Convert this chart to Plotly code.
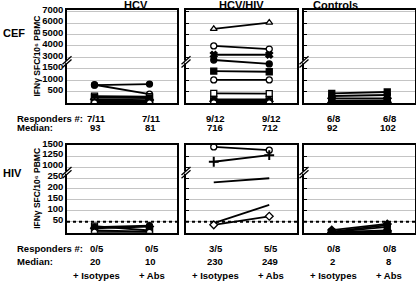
import numpy as np
import plotly.graph_objects as go

# ---------------- data ----------------
conditions = ["+ Isotypes", "+ Abs"]
groups = ["HCV", "HCV/HIV", "Controls"]
stimuli = ["CEF", "HIV"]

cef_ticks = [500, 1000, 1500, 3000, 4000, 5000, 6000, 7000]
hiv_ticks = [50, 100, 150, 200, 250, 1000, 1250, 1500]
hiv_threshold = 50

# CEF responses (IFN-g SFC / 10^6 PBMC)
cef_hcv_iso = [800, 780, 300, 240, 160, 93, 80, 60, 40, 20, 10]
cef_hcv_abs = [390, 830, 275, 220, 130, 81, 70, 50, 30, 20, 5]
cef_coinf_iso = [5490, 4000, 3230, 2655, 1400, 1010, 422, 160, 120, 75, 40, 10]
cef_coinf_abs = [6040, 3730, 3230, 2130, 1370, 1010, 414, 160, 110, 70, 35, 8]
cef_ctrl_iso = [425, 307, 206, 100, 84, 50, 20, 5]
cef_ctrl_abs = [482, 350, 206, 110, 94, 60, 30, 10]

# HIV responses
hiv_hcv_iso = [30, 25, 20, 10, 3]
hiv_hcv_abs = [10, 32, 28, 5, 2]
hiv_coinf_iso = [1462, 1122, 230, 44, 36]
hiv_coinf_abs = [1387, 1273, 249, 127, 75]
hiv_ctrl_iso = [12, 5, 3, 2, 2, 1, 0, 0]
hiv_ctrl_abs = [40, 35, 27, 10, 6, 4, 2, 0]

cef_responders = [["7/11", "7/11"], ["9/12", "9/12"], ["6/8", "6/8"]]
cef_medians = [["93", "81"], ["716", "712"], ["92", "102"]]
hiv_responders = [["0/5", "0/5"], ["3/5", "5/5"], ["0/8", "0/8"]]
hiv_medians = [["20", "10"], ["230", "249"], ["2", "8"]]

# ---------------- styles ----------------
FONT = "Liberation Sans, Arial, sans-serif"
sym_cef = [
    ["circle-w", "circle", "square-w", "square", "diamond", "circle-w", "square-w",
     "triangle-up", "circle", "square-w", "circle-w"],
    ["triangle-up-w", "circle-w", "x", "circle", "square", "circle-w", "square-w",
     "square-w", "circle", "diamond", "square", "circle-w"],
    ["square", "circle", "diamond", "square", "circle", "triangle-up", "diamond", "circle"],
]
sym_hiv = [
    ["square-w", "circle", "diamond", "square", "circle-w"],
    ["circle-w", "cross-thin", None, None, "diamond-w"],
    ["diamond", "circle", "square", "diamond", "circle", "diamond", "circle", "diamond"],
]

cef_data = [(cef_hcv_iso, cef_hcv_abs), (cef_coinf_iso, cef_coinf_abs), (cef_ctrl_iso, cef_ctrl_abs)]
hiv_data = [(hiv_hcv_iso, hiv_hcv_abs), (hiv_coinf_iso, hiv_coinf_abs), (hiv_ctrl_iso, hiv_ctrl_abs)]


def to_axis(vals, ticks):
    """Broken-axis scale: every tick label is one equal step."""
    return np.interp(vals, [0] + list(ticks), np.arange(len(ticks) + 1))


W, H = 416, 281
col_px = [(67, 177), (186, 297), (304, 415)]
row_px = [(10, 103), (145, 232.7)]
y_ranges = [[0, 8.15], [0, 8.02]]

fig = go.Figure()
layout = dict(width=W, height=H, autosize=False, margin=dict(l=0, r=0, t=0, b=0, pad=0),
              paper_bgcolor="white", plot_bgcolor="white", showlegend=False,
              font=dict(family=FONT, color="black"))
shapes = []
annotations = []

for r in range(2):
    ticks = cef_ticks if r == 0 else hiv_ticks
    data = cef_data if r == 0 else hiv_data
    syms = sym_cef if r == 0 else sym_hiv
    for c in range(3):
        k = r * 3 + c + 1
        xa = "x" if k == 1 else f"x{k}"
        ya = "y" if k == 1 else f"y{k}"
        xd = [col_px[c][0] / W, col_px[c][1] / W]
        yd = [1 - row_px[r][1] / H, 1 - row_px[r][0] / H]
        layout["xaxis" if k == 1 else f"xaxis{k}"] = dict(
            domain=xd, anchor=ya, type="category", range=[-0.5, 1.5],
            categoryorder="array", categoryarray=conditions,
            showticklabels=False, showgrid=False, zeroline=False, ticks="",
            showline=True, mirror=True, linecolor="black", linewidth=1.5)
        yax = dict(domain=yd, anchor=xa, range=y_ranges[r],
                   tickvals=list(range(1, len(ticks) + 1)),
                   ticktext=[str(t) for t in ticks],
                   showgrid=True, gridcolor="#c4c4c4", gridwidth=1, zeroline=False,
                   showline=True, mirror=True, linecolor="black", linewidth=1.5,
                   automargin=False)
        if c == 0:
            yax.update(showticklabels=True, ticks="",
                       tickfont=dict(size=9.5, family=FONT, weight="bold"),
                       ticklabelshift=-2)
        else:
            yax.update(showticklabels=False, ticks="inside", ticklen=3,
                       tickcolor="black", tickwidth=1)
        layout["yaxis" if k == 1 else f"yaxis{k}"] = yax

        iso, ab = data[c]
        y_iso = to_axis(iso, ticks)
        y_abs = to_axis(ab, ticks)
        for i in range(len(iso)):
            s = syms[c][i]
            if s is None:
                mk = dict(size=0)
                mode = "lines"
            else:
                white = s.endswith("-w")
                base = s[:-2] if white else s
                mk = dict(symbol=base, size=6 if base != "cross-thin" else 7,
                          color="white" if white else "black",
                          line=dict(color="black", width=1.3 if base != "cross-thin" else 2))
                mode = "lines+markers"
            fig.add_trace(go.Scatter(
                x=conditions, y=[y_iso[i], y_abs[i]], mode=mode,
                line=dict(color="black", width=1.8), marker=mk,
                customdata=[iso[i], ab[i]],
                hovertemplate="%{x}: %{customdata}<extra></extra>",
                xaxis=xa, yaxis=ya))

        # threshold dotted line in HIV row
        if r == 1:
            shapes.append(dict(type="line", xref=f"{xa} domain", x0=0, x1=1,
                               yref=ya, y0=to_axis(hiv_threshold, ticks),
                               y1=to_axis(hiv_threshold, ticks),
                               line=dict(color="black", width=2, dash="dot")))

        # axis break marks "//"
        brk = 3.6 if r == 0 else 5.5
        yb = yd[0] + (brk - y_ranges[r][0]) / (y_ranges[r][1] - y_ranges[r][0]) * (yd[1] - yd[0])
        xb = xd[0]
        dx, dy = 4.5 / W, 4 / H
        shapes.append(dict(type="rect", xref="paper", yref="paper",
                           x0=xb - 1.5 / W, x1=xb + 1.5 / W, y0=yb - 1.5 / H, y1=yb + 1.5 / H,
                           fillcolor="white", line=dict(width=0), layer="above"))
        for off in (-1.6 / H, 1.6 / H):
            shapes.append(dict(type="line", xref="paper", yref="paper",
                               x0=xb - dx, y0=yb - dy + off, x1=xb + dx, y1=yb + dy + off,
                               line=dict(color="black", width=1.3), layer="above"))

        # responders / medians below panel
        resp = cef_responders if r == 0 else hiv_responders
        med = cef_medians if r == 0 else hiv_medians
        ry = [118, 127] if r == 0 else [248, 261]
        for j in range(2):
            annotations.append(dict(text=resp[c][j], xref=xa, x=conditions[j], xshift=2,
                                    yref="paper", y=1 - ry[0] / H, yanchor="middle",
                                    showarrow=False, font=dict(size=9.5, weight="bold")))
            annotations.append(dict(text=med[c][j], xref=xa, x=conditions[j], xshift=1,
                                    yref="paper", y=1 - ry[1] / H, yanchor="middle",
                                    showarrow=False, font=dict(size=9.5, weight="bold")))
            if r == 1:
                annotations.append(dict(text=conditions[j], xref=xa, x=conditions[j], xshift=2,
                                        yref="paper", y=1 - 275 / H, yanchor="middle",
                                        showarrow=False, font=dict(size=9.5, weight="bold")))

# group titles
for c in range(3):
    annotations.append(dict(text=groups[c], xref="paper", x=(col_px[c][0] + col_px[c][1]) / 2 / W,
                            yref="paper", y=1 - 4.5 / H, yanchor="middle", showarrow=False,
                            font=dict(size=11, weight="bold")))
# row labels and y titles
for r, yy in enumerate([33, 172.7]):
    annotations.append(dict(text=stimuli[r], xref="paper", x=1 / W, xanchor="left",
                            yref="paper", y=1 - yy / H, yanchor="middle", showarrow=False,
                            font=dict(size=11, weight="bold")))
    annotations.append(dict(text="IFNγ SFC/10⁶ PBMC", textangle=-90,
                            xref="paper", x=37 / W, xanchor="center", yref="paper",
                            y=1 - (row_px[r][0] + row_px[r][1]) / 2 / H, yanchor="middle",
                            showarrow=False, font=dict(size=8.5, weight="bold")))
# row headers for responders / median
for ry in ([118, 127], [248, 261]):
    annotations.append(dict(text="Responders #:", xref="paper", x=15 / W, xanchor="left",
                            yref="paper", y=1 - ry[0] / H, yanchor="middle", showarrow=False,
                            font=dict(size=9.5, weight="bold")))
    annotations.append(dict(text="Median:", xref="paper", x=15 / W, xanchor="left",
                            yref="paper", y=1 - ry[1] / H, yanchor="middle", showarrow=False,
                            font=dict(size=9.5, weight="bold")))

layout["shapes"] = shapes
layout["annotations"] = annotations
fig.update_layout(**layout)
fig.write_html("out.html", config={"displayModeBar": False},
               post_script="document.body.style.margin='0';")
